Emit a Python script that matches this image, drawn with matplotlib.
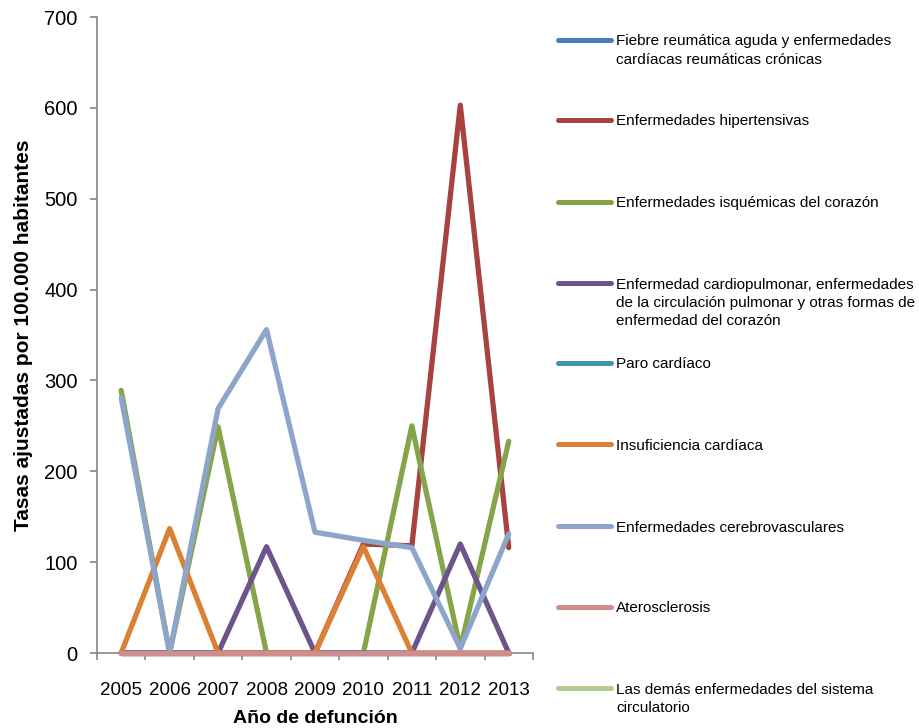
import numpy as np
import matplotlib
matplotlib.use("Agg")
import matplotlib.pyplot as plt
from matplotlib.lines import Line2D

plt.rcParams['font.family'] = ['Liberation Sans', 'DejaVu Sans']

# Data
years = ['2005', '2006', '2007', '2008', '2009', '2010', '2011', '2012', '2013']
fiebre = [0, 0, 0, 0, 0, 0, 0, 0, 0]
hipertensivas = [0, 0, 0, 0, 0, 120, 118, 603, 116]
isquemicas = [289, 0, 249, 0, 0, 0, 250, 5, 233]
cardiopulmonar = [0, 0, 0, 117, 0, 0, 0, 120, 0]
paro = [0, 0, 0, 0, 0, 0, 0, 0, 0]
insuficiencia = [0, 137, 0, 0, 0, 117, 0, 0, 0]
cerebrovasculares = [281, 0, 269, 356, 133, 124, 116, 5, 131]
aterosclerosis = [0, 0, 0, 0, 0, 0, 0, 0, 0]
demas = [0, 0, 0, 0, 0, 0, 0, 0, 0]

series = [
    ("Fiebre reumática aguda y enfermedades\ncardíacas reumáticas crónicas", fiebre, '#4A7EBB'),
    ("Enfermedades hipertensivas", hipertensivas, '#A8423F'),
    ("Enfermedades isquémicas del corazón", isquemicas, '#86A44A'),
    ("Enfermedad cardiopulmonar, enfermedades\nde la circulación pulmonar y otras formas de\nenfermedad del corazón", cardiopulmonar, '#6E548D'),
    ("Paro cardíaco", paro, '#3D96AE'),
    ("Insuficiencia cardíaca", insuficiencia, '#DA8137'),
    ("Enfermedades cerebrovasculares", cerebrovasculares, '#8EA5CB'),
    ("Aterosclerosis", aterosclerosis, '#CE8E8D'),
    ("Las demás enfermedades del sistema\ncirculatorio", demas, '#B3CB8C'),
]

fig = plt.figure(figsize=(9.2, 7.28), dpi=100)
ax = fig.add_axes([0.1054, 0.1030, 0.4739, 0.8736])

x = np.arange(len(years))
for i, (name, vals, col) in enumerate(series):
    z = 3 + i
    if name.startswith("Las dem"):
        z = 2.8
    ax.plot(x, vals, color=col, lw=3.8, solid_capstyle='round',
            solid_joinstyle='round', zorder=z, clip_on=False)

ax.set_xlim(-0.5, len(years) - 0.5)
ax.set_ylim(0, 700)
ax.set_yticks(np.arange(0, 701, 100))
ax.set_xticks(np.arange(-0.5, len(years)), labels=[])
ax.set_xticks(x, labels=years, minor=True)
ax.tick_params(axis='x', which='minor', length=0, pad=21, labelsize=13.5)
ax.tick_params(axis='x', which='major', length=5, width=1.2, color='#868686')
ax.tick_params(axis='y', length=5, width=1.2, color='#868686', labelsize=14.5, pad=9)
for s in ['top', 'right']:
    ax.spines[s].set_visible(False)
for s in ['left', 'bottom']:
    ax.spines[s].set_color('#868686')
    ax.spines[s].set_linewidth(1.2)

ax.set_xlabel("Año de defunción", fontsize=14, fontweight='bold', labelpad=8)
ax.set_ylabel("Tasas ajustadas por 100.000 habitantes", fontsize=15,
              fontweight='bold', labelpad=8)

# legend drawn by hand, handle aligned with first text line
legend_y = [40, 120, 202, 283, 363, 444, 526, 607, 688]
for (name, vals, col), py in zip(series, legend_y):
    fy = 1 - py / 728
    fig.add_artist(Line2D([0.6065, 0.6640], [fy, fy], color=col, lw=3.6,
                          solid_capstyle='round', transform=fig.transFigure))
    fig.text(0.6696, fy + 5.5 / 728, name, fontsize=11, va='top', ha='left',
             linespacing=1.37)

fig.savefig("out.png", dpi=100)
